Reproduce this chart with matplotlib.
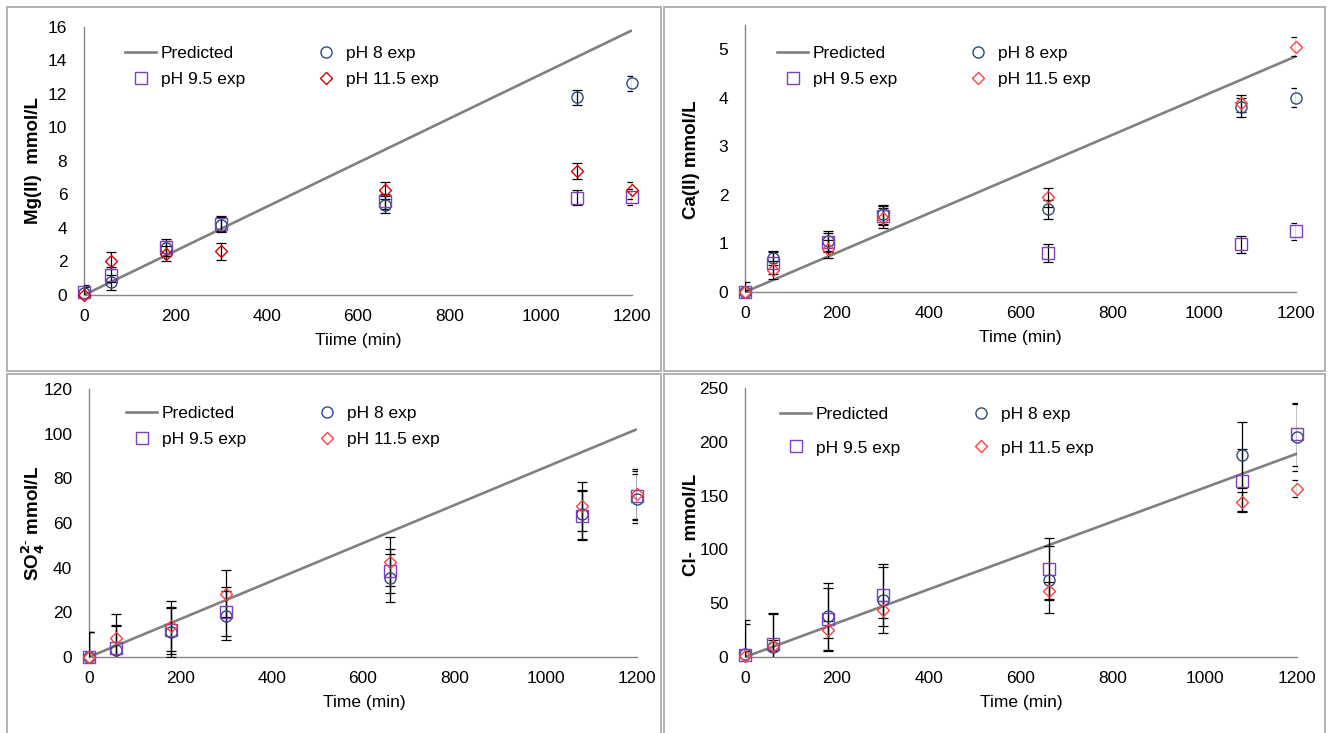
import math
import matplotlib
matplotlib.use("Agg")
import matplotlib.pyplot as plt
from matplotlib.lines import Line2D
from matplotlib.patches import Rectangle

plt.rcParams["font.family"] = ["Liberation Sans", "DejaVu Sans"]

# Sampling times (min)
time = [0, 60, 180, 300, 660, 1080, 1200]
pred_time = [0, 1200]

# Mg(II)
mg_pred = [0, 15.8]
mg_ph8 = [0.1, 0.75, 2.8, 4.2, 5.4, 11.8, 12.65]
mg_ph95 = [0.15, 1.2, 2.85, 4.25, 5.6, 5.8, 5.85]
mg_ph115 = [0.0, 2.05, 2.45, 2.6, 6.25, 7.4, 6.25]
mg_ph8_err = [0.45, 0.45, 0.45, 0.45, 0.5, 0.45, 0.45]
mg_ph95_err = [0.45, 0.45, 0.5, 0.45, 0.45, 0.45, 0.45]
mg_ph115_err = [0.5, 0.5, 0.45, 0.5, 0.5, 0.5, 0.5]

# Ca(II)
ca_pred = [0, 4.85]
ca_ph8 = [0, 0.7, 1.05, 1.6, 1.7, 3.8, 4.0]
ca_ph95 = [0, 0.6, 1.02, 1.57, 0.8, 0.98, 1.25]
ca_ph115 = [0, 0.45, 0.88, 1.52, 1.95, 3.88, 5.05]
ca_ph8_err = [0.2, 0.15, 0.2, 0.2, 0.2, 0.2, 0.2]
ca_ph95_err = [0.05, 0.22, 0.2, 0.2, 0.19, 0.18, 0.18]
ca_ph115_err = [0.05, 0.19, 0.18, 0.2, 0.2, 0.18, 0.2]

# SO4(2-)
so4_pred = [0, 102]
so4_ph8 = [0, 3, 11, 18.5, 35.5, 64, 70.8]
so4_ph95 = [0, 4, 12, 20.3, 38.5, 63.2, 72.3]
so4_ph115 = [0, 8.6, 13.9, 28.3, 42.7, 67.4, 73]
so4_ph8_err = [11, 11, 11, 11, 10.7, 11, 11]
so4_ph95_err = [11, 10.2, 10.5, 11, 10, 11, 11]
so4_ph115_err = [11, 10.6, 11, 10.6, 11, 11, 11]

# Cl-
cl_pred = [0, 189]
cl_ph8 = [3, 9, 37.8, 53, 72, 187.6, 204]
cl_ph95 = [2, 12, 35, 57.7, 82, 164, 206.8]
cl_ph115 = [1, 10.4, 25.2, 44, 61.8, 144.4, 156.4]
cl_ph8_err = [31, 31, 31, 31, 31, 31, 31]
cl_ph95_err = [29, 29, 29, 29, 29, 29, 29]
cl_ph115_err = [5, 5, 8, 8, 8, 9, 8]

W, H = 1333, 733
fig = plt.figure(figsize=(W / 100, H / 100), dpi=100)

GRAY = "#868686"
PRED = "#808080"
NAVY = "#2E4A7D"
PURPLE = "#7F3FBF"
FS = 12.5

MS_O, MS_S, MS_D = 8.0, 8.2, 6.3


def px_rect(x0, x1, y_top, y_bot):
    return [x0 / W, 1 - y_bot / H, (x1 - x0) / W, (y_bot - y_top) / H]


# Panel frames
for (x0, y0, x1, y1) in [(7, 7, 661, 371), (664, 7, 1325, 371),
                         (7, 374, 661, 745), (664, 374, 1325, 745)]:
    fig.patches.append(Rectangle((x0 / W, 1 - y1 / H), (x1 - x0) / W, (y1 - y0) / H,
                                 transform=fig.transFigure, fill=False,
                                 edgecolor="#A6A6A6", linewidth=1.2, zorder=0))


def panel(rect, ymax, ystep, pred, s8, e8, s95, e95, s115, e115,
          red, xlabel, ylabel, xlab_pos, ylab_pos, leg_pos, leg_ls):
    ax = fig.add_axes(rect)
    ax.set_xlim(0, 1200)
    ax.set_ylim(0, ymax)
    ax.set_xticks(range(0, 1201, 200))
    ticks = [ystep * i for i in range(int(math.floor(ymax / ystep + 1e-9)) + 1)]
    ax.set_yticks(ticks)
    ax.set_yticklabels([f"{t:g}" for t in ticks])
    for s in ("top", "right"):
        ax.spines[s].set_visible(False)
    for s in ("left", "bottom"):
        ax.spines[s].set_color(GRAY)
        ax.spines[s].set_linewidth(1.0)
    ax.tick_params(axis="both", length=0, labelsize=FS, colors="black")
    ax.tick_params(axis="x", pad=10)
    ax.tick_params(axis="y", pad=12)
    ax.patch.set_alpha(0)

    ax.plot(pred_time, pred, color=PRED, lw=1.9, zorder=2, solid_capstyle="butt")

    series = [(s8, e8, "o", NAVY, MS_O), (s95, e95, "s", PURPLE, MS_S),
              (s115, e115, "D", red, MS_D)]
    for vals, err, mk, col, ms in series:
        ax.errorbar(time, vals, yerr=err, fmt="none", ecolor="black",
                    elinewidth=0.9, capsize=3.5, capthick=0.9, zorder=3)
        ax.plot(time, vals, ls="none", marker=mk, ms=ms, mfc="none",
                mec=col, mew=1.0, zorder=4, clip_on=False)

    fig.text(xlab_pos[0] / W, 1 - xlab_pos[1] / H, xlabel, ha="center",
             va="center", fontsize=FS)
    fig.text(ylab_pos[0] / W, 1 - ylab_pos[1] / H, ylabel, ha="center",
             va="center", rotation=90, fontsize=13.5, fontweight="bold")

    handles = [
        Line2D([], [], color=PRED, lw=1.9),
        Line2D([], [], ls="none", marker="s", ms=MS_S, mfc="none", mec=PURPLE, mew=1.0),
        Line2D([], [], ls="none", marker="o", ms=MS_O, mfc="none", mec=NAVY, mew=1.0),
        Line2D([], [], ls="none", marker="D", ms=MS_D, mfc="none", mec=red, mew=1.0),
    ]
    labels = ["Predicted", "pH 9.5 exp", "pH 8 exp", "pH 11.5 exp"]
    fig.legend(handles, labels, loc="upper left",
               bbox_to_anchor=(leg_pos[0] / W, 1 - leg_pos[1] / H),
               bbox_transform=fig.transFigure, ncol=2, frameon=False,
               fontsize=FS, handlelength=1.8, handletextpad=0.25,
               columnspacing=3.8, labelspacing=leg_ls, borderpad=0,
               borderaxespad=0)
    return ax


panel(px_rect(84, 632, 27, 295), 16, 2, mg_pred,
      mg_ph8, mg_ph8_err, mg_ph95, mg_ph95_err, mg_ph115, mg_ph115_err,
      "#E00000", "Tiime (min)", "Mg(II)  mmol/L", (358, 340), (33, 160),
      (125, 46), 0.62)

panel(px_rect(745, 1296, 24.7, 292), 5.5, 1, ca_pred,
      ca_ph8, ca_ph8_err, ca_ph95, ca_ph95_err, ca_ph115, ca_ph115_err,
      "#FF4040", "Time (min)", "Ca(II) mmol/L", (1020, 338), (692, 160),
      (777, 46), 0.62)

panel(px_rect(89, 637, 389, 657), 120, 20, so4_pred,
      so4_ph8, so4_ph8_err, so4_ph95, so4_ph95_err, so4_ph115, so4_ph115_err,
      "#FF4040", "Time (min)", r"SO$_\mathbf{4}^\mathbf{2\text{-}}$ mmol/L", (364, 703), (33, 523),
      (126, 406), 0.62)

panel(px_rect(745, 1297, 388, 657), 250, 50, cl_pred,
      cl_ph8, cl_ph8_err, cl_ph95, cl_ph95_err, cl_ph115, cl_ph115_err,
      "#FF4040", "Time (min)", "Cl-  mmol/L", (1021, 702), (692, 525),
      (780, 407), 1.05)

fig.savefig("out.png", dpi=100)
